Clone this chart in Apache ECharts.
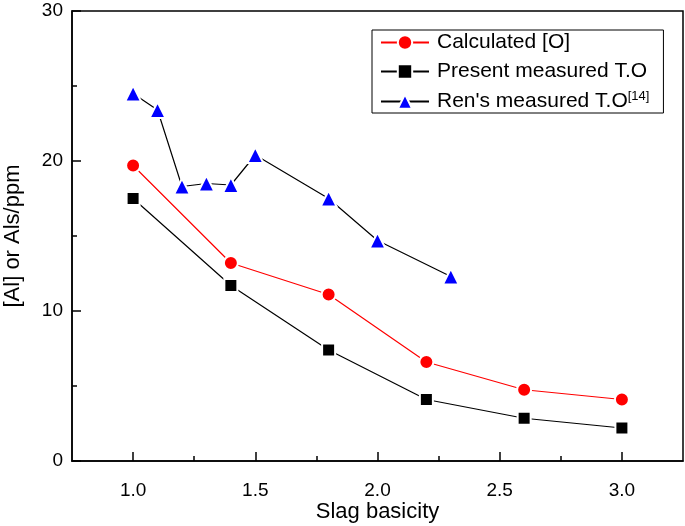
<!DOCTYPE html>
<html><head><meta charset="utf-8">
<script src="https://cdn.jsdelivr.net/npm/echarts@6/dist/echarts.min.js"></script>
<style>html,body{margin:0;padding:0;background:#fff}#c{width:685px;height:526px}</style>
</head><body><div id="c"></div>
<script>
var seriesNames = ['Calculated [O]', 'Present measured T.O', "Ren's measured T.O"];
var calcX = [1.0, 1.4, 1.8, 2.2, 2.6, 3.0];
var calcY = [19.7, 13.2, 11.1, 6.6, 4.75, 4.1];
var presX = [1.0, 1.4, 1.8, 2.2, 2.6, 3.0];
var presY = [17.5, 11.7, 7.4, 4.1, 2.85, 2.2];
var renX = [1.0, 1.1, 1.2, 1.3, 1.4, 1.5, 1.8, 2.0, 2.3];
var renY = [24.5, 23.4, 18.3, 18.5, 18.4, 20.4, 17.5, 14.7, 12.3];
var xTicks = [1.0, 1.5, 2.0, 2.5, 3.0];
var xMinorTicks = [1.25, 1.75, 2.25, 2.75];
var yTicks = [0, 10, 20, 30];
var yMinorTicks = [5, 15, 25];

function pairs(xs, ys){ return xs.map(function(x,i){ return [x, ys[i]]; }); }
var font = 'Liberation Sans, Arial, sans-serif';
var lineSt = {color: '#000', width: 1.5};
function mkAxis(isX, major){
  var a = {
    type: 'value', min: isX ? 0.75 : 0, max: isX ? 3.25 : 30,
    position: isX ? 'bottom' : 'left',
    axisLine: {show: major, onZero: false, lineStyle: lineSt},
    axisTick: {inside: true, length: major ? 9 : 5, lineStyle: lineSt, customValues: major ? (isX ? xTicks : yTicks) : (isX ? xMinorTicks : yMinorTicks)},
    splitLine: {show: false},
    axisLabel: {show: major, fontFamily: font, fontSize: 19, color: '#000', margin: isX ? 20 : 9, customValues: isX ? xTicks : yTicks,
      formatter: function(v){ return isX ? v.toFixed(1) : String(v); }}
  };
  if (major) {
    a.name = isX ? 'Slag basicity' : '[Al] or Als/ppm';
    a.nameLocation = 'middle';
    a.nameGap = isX ? 40 : 48;
    a.nameMoveOverlap = false;
    a.nameTextStyle = {fontFamily: font, fontSize: 22, color: '#000'};
  }
  return a;
}
var chart = echarts.init(document.getElementById('c'));
chart.setOption({
  animation: false,
  grid: {left: 72, right: 2, top: 11, bottom: 65, show: true, borderColor: '#000', borderWidth: 1.5, backgroundColor: 'transparent', containLabel: false, outerBoundsMode: 'none'},
  legend: {
    orient: 'vertical', left: 372, top: 30,
    backgroundColor: '#fff', borderColor: '#000', borderWidth: 1,
    padding: [2, 14, 1, 8], itemGap: 8, itemWidth: 48, itemHeight: 18,
    data: seriesNames,
    textStyle: {fontFamily: font, fontSize: 21, color: '#000', padding: [0, 0, 0, 3],
      rich: {n: {fontFamily: font, fontSize: 21, color: '#000'}, s: {fontFamily: font, fontSize: 13, color: '#000', verticalAlign: 'top', padding: [0,0,10,0]}}},
    formatter: function(name){ return name.indexOf('Ren') === 0 ? '{n|' + name + '}{s|[14]}' : name; }
  },
  xAxis: [mkAxis(true, true), mkAxis(true, false)],
  yAxis: [mkAxis(false, true), mkAxis(false, false)],
  series: [
    {name: seriesNames[0], type: 'line', data: pairs(calcX, calcY), symbol: 'circle', symbolSize: 14,
      lineStyle: {color: '#ff0000', width: 1.2}, itemStyle: {color: '#ff0000', borderColor: '#fff', borderWidth: 2}},
    {name: seriesNames[1], type: 'line', data: pairs(presX, presY), symbol: 'rect', symbolSize: 13,
      lineStyle: {color: '#000', width: 1.2}, itemStyle: {color: '#000', borderColor: '#fff', borderWidth: 2}},
    {name: seriesNames[2], type: 'line', data: pairs(renX, renY), symbol: 'triangle', symbolSize: 16,
      lineStyle: {color: '#000', width: 1.2}, itemStyle: {color: '#0000ff', borderColor: '#fff', borderWidth: 2}}
  ]
});
</script></body></html>
